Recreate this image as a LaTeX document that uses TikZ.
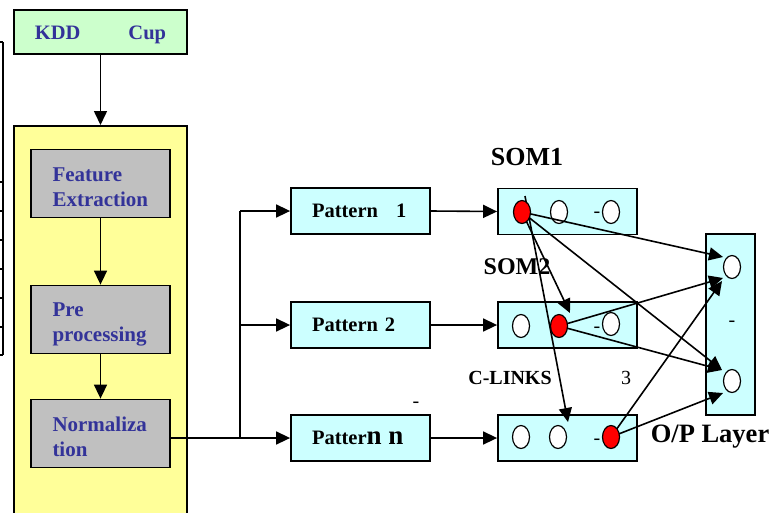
\documentclass[tikz,border=0pt]{standalone}
\usepackage{fontspec}
\setmainfont{Liberation Serif}
\usetikzlibrary{arrows.meta,shapes.geometric}
\pgfdeclarelayer{top}
\pgfsetlayers{main,top}
\definecolor{txtblue}{RGB}{51,51,153}
\definecolor{kddgreen}{RGB}{204,255,204}
\definecolor{yel}{RGB}{255,255,153}
\definecolor{grayb}{RGB}{192,192,192}
\definecolor{cyanb}{RGB}{204,255,255}
\definecolor{redc}{RGB}{255,0,0}
\tikzset{
  box/.style={draw=black,line width=1.8pt,inner sep=0pt},
  gbox/.style={box,fill=grayb,minimum width=139pt,minimum height=68pt},
  gtext/.style={text width=98pt,inner sep=0pt,align=left,
     font=\fontsize{21}{25}\selectfont\bfseries,text=txtblue},
  pbox/.style={box,fill=cyanb,minimum width=139pt,minimum height=46pt,text width=97pt,inner xsep=21pt,align=left,
     font=\fontsize{20.5}{24}\selectfont\bfseries},
  sbox/.style={box,fill=cyanb,minimum width=139pt,minimum height=46pt},
  wc/.style={ellipse,draw=black,line width=1.2pt,fill=white,minimum width=17pt,minimum height=23pt,inner sep=0pt},
  rc/.style={wc,fill=redc},
  conn/.style={line width=1.6pt,-{Triangle[length=14pt,width=13pt]}},
  plain/.style={line width=1.6pt},
  lbl/.style={font=\fontsize{20}{24}\selectfont\bfseries,inner sep=0pt},
  dsh/.style={font=\fontsize{20}{24}\selectfont,inner sep=0pt}
}
\begin{document}
\begin{tikzpicture}[x=1pt,y=-1pt]
\useasboundingbox (0,0) rectangle (781,512);
\clip (0,0) rectangle (781,512);
% partial table at left edge
\draw[line width=1.2pt] (3,42) -- (3,355);
\foreach \yy in {42,182,211,240,269,298,327,355}{\draw[line width=1.2pt] (-1,\yy) -- (3,\yy);}
% KDD Cup
\node[box,fill=kddgreen,minimum width=173pt,minimum height=44pt] (kdd) at (100.5,32) {};
\node[font=\fontsize{20.5}{24}\selectfont\bfseries,text=txtblue,inner sep=0pt] (kddt) at (100.5,35) {KDD\hspace{48pt}Cup};
% yellow container
\node[box,fill=yel,minimum width=173pt,minimum height=400pt,anchor=north] (yb) at (100.5,125) {};
% gray boxes
\node[gbox] (fe) at (100.5,183.5) {};
\node[gtext] (fet) at (101.5,187) {Feature\\Extraction};
\node[gbox] (pp) at (100.5,319.5) {};
\node[gtext] (ppt) at (101.5,324.5) {Pre\\processing};
\node[gbox] (nm) at (100.5,433.5) {};
\node[gtext] (nmt) at (101.5,437) {Normaliza\\tion};
\draw[conn] (kdd.south) -- (yb.north);
\draw[conn] (fe) -- (pp);
\draw[conn] (pp) -- (nm);
% patterns
\node[pbox] (p1) at (360.5,211) {Pattern\hspace{18pt}1};
\node[pbox] (p2) at (360.5,325) {Pattern 2};
\node[pbox] (pn) at (360.5,438) {Patter{\fontsize{27}{27}\selectfont n n}};
\node[dsh] (pdash) at (416,405) {-};
\coordinate (br) at (240,438);
\draw[plain] (nm.east |- br) -- (br);
\draw[plain] (br) -- (240,211);
\draw[conn] (240,211) -- (p1.west);
\draw[conn] (240,325) -- (p2.west);
\draw[conn] (br) -- (pn.west);
% SOM boxes
\node[sbox] (s1) at (567.5,211.5) {};
\node[sbox] (s2) at (567.5,325) {};
\node[sbox] (s3) at (567.5,438) {};
\draw[conn] (p1.east) -- (s1.west);
\draw[conn] (p2.east) -- (s2.west);
\draw[conn] (pn.east) -- (s3.west);
% red (winning) nodes on top
\begin{pgfonlayer}{top}
\node[rc] (r1) at (522,212) {};
\node[rc] (r2) at (559,326) {};
\node[rc] (r3) at (611,437) {};
\end{pgfonlayer}
% SOM1
\node[wc] (a12) at (559,212) {};
\node[dsh] (d1) at (597,215) {-};
\node[wc] (a13) at (611,212) {};
% SOM2
\node[wc] (a21) at (521,326) {};
\node[dsh] (d2) at (597,330) {-};
\node[wc] (a23) at (611,324) {};
% SOM3
\node[wc] (a31) at (521,437) {};
\node[wc] (a32) at (558,437) {};
\node[dsh] (d3) at (597,442) {-};
% O/P layer
\node[box,fill=cyanb,minimum width=49pt,minimum height=181pt] (op) at (730.5,324.5) {};
\node[wc] (o1) at (732,267) {};
\node[wc] (o2) at (732,381) {};
\node[dsh] (d4) at (732,324) {-};
% labels
\node[lbl,font=\fontsize{26}{26}\selectfont\bfseries] (som1) at (527,157) {SOM1};
\node[lbl,font=\fontsize{24}{24}\selectfont\bfseries] (som2) at (517,267) {SOM2};
\node[lbl,font=\fontsize{20}{20}\selectfont\bfseries] (cl) at (510,378) {C-LINKS};
\node[dsh] (three) at (626,378) {3};
\node[lbl,font=\fontsize{26.5}{26}\selectfont\bfseries] (opl) at (710,437) {O/P Layer};
% connections
\coordinate (t1a) at (723,257);
\coordinate (t12) at (570,313);
\coordinate (s1top) at (525,196);
\coordinate (t13) at (568,422);
\coordinate (t1b) at (722,370);
\coordinate (t2a) at (723,278);
\coordinate (t3a) at (722,281);
\coordinate (t3b) at (723,393);
\draw[conn] (r1.center) -- (t1a);
\draw[conn] (r1.center) -- (t12);
\draw[conn] (s1top) -- (t13);
\draw[conn] (r1.center) -- (t1b);
\draw[conn] (r2.center) -- (t2a);
\draw[conn] (r2.center) -- (t1b);
\draw[conn] (r3.center) -- (t3a);
\draw[conn] (r3.center) -- (t3b);
\end{tikzpicture}
\end{document}
